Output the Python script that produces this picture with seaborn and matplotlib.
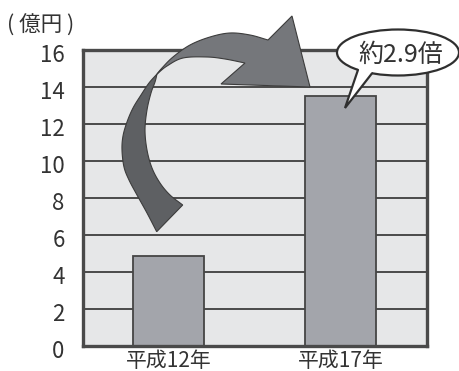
import numpy as np
import matplotlib
matplotlib.use("Agg")
import matplotlib.pyplot as plt
import seaborn as sns
import pandas as pd
from matplotlib.patches import Polygon, Ellipse
from matplotlib.transforms import Affine2D, ScaledTranslation
from matplotlib.lines import Line2D

# ---- data ----
categories = ["平成12年", "平成17年"]
values = [4.85, 13.5]
yticks = [0, 2, 4, 6, 8, 10, 12, 14, 16]
unit_label = "( 億円 )"
bubble_text = "約2.9倍"

sns.set_theme(style="white")
plt.rcParams['font.family'] = ['Noto Sans CJK JP', 'DejaVu Sans']

W, H = 460, 371
fig = plt.figure(figsize=(W / 100, H / 100), dpi=100)
fig.patch.set_facecolor("white")
ax = fig.add_axes([82.7 / W, 1 - 346 / H, (426.7 - 82.7) / W, (346 - 49.5) / H])

df = pd.DataFrame({"cat": categories, "val": values})
sns.barplot(data=df, x="cat", y="val", ax=ax, color="#a3a5ab", saturation=1,
            width=0.41, edgecolor="#454545", linewidth=1.3, zorder=2)

ax.set_facecolor("#e6e7e8")
ax.set_xlim(-0.5, 1.5)
ax.set_ylim(0, 16)
ax.set_yticks(yticks)
ax.set_yticklabels([str(v) for v in yticks])
ax.set_xlabel("")
ax.set_ylabel("")
for v in yticks[1:-1]:
    ax.axhline(v, color="#4a4a4a", lw=1.4, zorder=1)
for s in ax.spines.values():
    s.set_color("#4a4a4a")
    s.set_linewidth(2.4)
    s.set_visible(True)
ax.tick_params(axis="y", length=0, pad=13, labelsize=16, labelcolor="#333333")
ax.tick_params(axis="x", which="major", length=0, pad=3, labelsize=15, labelcolor="#333333")
ax.set_xticks([0.5], minor=True)
ax.tick_params(axis="x", which="minor", direction="in", length=5, width=1.2, color="#4a4a4a")
shift = ScaledTranslation(0, -3 / 100, fig.dpi_scale_trans)
for lab in ax.get_yticklabels():
    lab.set_transform(lab.get_transform() + shift)

fig.text(7 / W, 1 - 26 / H, unit_label, fontsize=15.5, color="#333333", va="center", ha="left")

# pixel transform (image coords, y down)
pix = Affine2D().scale(1 / W, -1 / H).translate(0, 1) + fig.transFigure


def smooth(pts, n=12):
    p = np.asarray(pts, float)
    ext = np.vstack([2 * p[0] - p[1], p, 2 * p[-1] - p[-2]])
    out = []
    for i in range(1, len(ext) - 2):
        p0, p1, p2, p3 = ext[i - 1], ext[i], ext[i + 1], ext[i + 2]
        for t in np.linspace(0, 1, n, endpoint=False):
            t2, t3 = t * t, t * t * t
            out.append(0.5 * ((2 * p1) + (-p0 + p2) * t + (2 * p0 - 5 * p1 + 4 * p2 - p3) * t2
                              + (-p0 + 3 * p1 - 3 * p2 + p3) * t3))
    out.append(p[-1])
    return np.array(out)


# upper (lighter) part of the curved arrow
outer = smooth([(157, 74), (162, 68), (173, 57), (190, 45), (210, 37), (230, 33), (250, 35), (268, 40)])
head = np.array([(292, 16), (310, 87), (221, 84), (245, 63)])
inner = smooth([(245, 63), (225, 59), (207, 57), (183, 58), (167, 66), (157, 74)])
upper = np.vstack([outer, head, inner])
fig.patches.append(Polygon(upper, closed=True, transform=pix, facecolor="#75777b",
                           edgecolor="#3c3c3c", lw=0.8, zorder=10))

# lower (darker) part
left = smooth([(157, 74), (149, 83), (141, 95), (133, 108), (127, 122), (123, 136), (122, 150),
               (124, 167), (129, 180), (137, 195), (147, 213), (156.7, 231.7)])
right = smooth([(182.7, 205), (170, 195), (160, 183), (152, 168), (147, 150), (145, 130),
                (147, 110), (151, 93), (155, 82), (157, 74)])
lower = np.vstack([left, right])
fig.patches.append(Polygon(lower, closed=True, transform=pix, facecolor="#5e6063",
                           edgecolor="#3c3c3c", lw=0.8, zorder=11))

# speech bubble
cx, cy, a, b = 398, 52.5, 61, 23
fig.patches.append(Ellipse((cx, cy), 2 * a, 2 * b, transform=pix, facecolor="white",
                           edgecolor="#2f2f2f", lw=1.6, zorder=12))
def ell_y(x):
    return cy + b * np.sqrt(1 - ((x - cx) / a) ** 2)
bl = (358, ell_y(358))
br = (372, ell_y(372))
tip = (345, 108)
fig.patches.append(Polygon([(bl[0], bl[1] - 3), bl, tip, br, (br[0], br[1] - 3)], closed=True,
                           transform=pix, facecolor="white", edgecolor="none", zorder=13))
fig.lines.append(Line2D([bl[0], tip[0], br[0]], [bl[1], tip[1], br[1]], transform=pix,
                        color="#2f2f2f", lw=1.6, zorder=14, solid_joinstyle="miter"))
fig.text(401 / W, 1 - 55 / H, bubble_text, fontsize=18, color="#333333",
         ha="center", va="center", zorder=15)

fig.savefig("out.png", dpi=100, facecolor="white")
